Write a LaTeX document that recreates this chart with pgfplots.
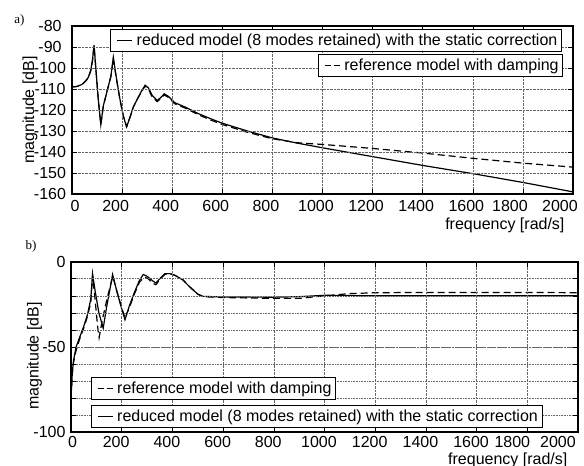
\documentclass[border=0pt]{standalone}
\usepackage{pgfplots}
\pgfplotsset{compat=1.18}
\usepackage{fontspec}
\setmainfont{Liberation Sans}
\newfontfamily\seriffont{Liberation Serif}

\pgfplotsset{
  magplot/.style={
    scale only axis,
    anchor=south west,
    xmin=0, xmax=2000,
    xtick={0,200,...,2000},
    axis on top,
    axis line style={line width=2.2pt},
    tick style={black, line width=0.6pt},
    major tick length=5pt, minor tick length=5pt,
    tick align=inside,
    grid style={densely dotted, black!60, line width=0.6pt},
    minor grid style={densely dotted, black!60, line width=0.6pt},
    /pgf/number format/1000 sep={},
    /pgf/number format/assume math mode=true,
    scaled ticks=false,
    ticklabel style={font=\fontsize{16}{18}\selectfont},
    label style={font=\fontsize{16}{18}\selectfont},
    legend style={draw=black, line width=0.6pt, fill=white,
      font=\fontsize{16}{18}\selectfont, inner xsep=2pt, inner ysep=2.5pt},
    legend cell align=left,
    legend image code/.code={\draw[##1] (4pt,0pt) -- (19pt,0pt); \path (0pt,0pt) (21pt,0pt);},
  },
  solidc/.style={black, line width=1.2pt},
  dashc/.style={black, line width=1.2pt, dash pattern=on 7pt off 4pt},
  dashleg/.style={black, line width=1.2pt, dash pattern=on 6pt off 3pt},
}

\begin{document}
\begin{tikzpicture}
\path[use as bounding box] (0pt,0pt) rectangle (584pt,466pt);

\node[font=\seriffont\fontsize{13}{13}\selectfont] at (19.5pt,446pt) {a)};
\node[font=\seriffont\fontsize{13}{13}\selectfont] at (31pt,220pt) {b)};

% ---------- a) ----------
\begin{axis}[magplot,
  at={(72pt,272pt)}, width=501pt, height=168pt,
  ymin=-160, ymax=-80, ytick={-160,-150,...,-80},
  grid=major,
  xticklabel style={yshift=-3pt, xshift={(\ticknum==0 ? 3 : (\ticknum>8 ? -13 : -6.5))*1pt}},
  yticklabel style={anchor=center, xshift=-22pt},
  ylabel={magnitude [dB]},
  ylabel style={at={(axis description cs:-0.084,0.5)}, anchor=center},
  xlabel={frequency [rad/s]},
  xlabel style={at={(axis description cs:0.99,-0.185)}, anchor=east},
  legend style={at={(0.9774,0.982)}, anchor=north east},
]
\addplot[dashc, forget plot] coordinates {
(0,-109) (20,-108.8) (40,-107.9) (55,-106.2) (65,-104.7) (75,-101.3) (82,-96.5) (88,-89.5)
(95,-100) (105,-115) (115,-127) (125,-118.3) (140,-111) (155,-104.3) (165,-95.5)
(175,-103.5) (190,-114) (205,-123) (218,-128) (230,-124) (245,-118.5) (260,-115)
(275,-111.8) (292,-108.6) (305,-110) (320,-113.8) (340,-116) (355,-114.5) (368,-112.8)
(385,-114) (410,-117) (450,-119) (500,-122) (550,-124.6) (600,-126.9) (700,-130.6)
(800,-133.7) (900,-135.6) (1000,-136.4) (1200,-138.3) (1400,-140.5) (1600,-143)
(1800,-145.3) (2000,-147.2)
};
\addplot[solidc] coordinates {
(0,-109) (20,-108.8) (40,-107.8) (55,-106) (65,-104.5) (75,-101) (82,-96) (88,-89)
(95,-100) (105,-115) (115,-127) (125,-118) (140,-111) (155,-104) (165,-95)
(175,-103) (190,-114) (205,-123) (218,-128) (230,-124) (245,-118.5) (260,-115)
(275,-111.5) (292,-108.2) (305,-109.5) (320,-113) (340,-115.5) (355,-114) (368,-112.3)
(385,-113.5) (410,-116.5) (450,-118.5) (500,-121.5) (550,-124) (600,-126.3) (700,-130)
(800,-133.3) (900,-135.8) (1000,-138) (1200,-142.2) (1400,-146.4) (1600,-150.3)
(1800,-154.5) (2000,-159)
};
\addlegendentry{reduced model (8 modes retained) with the static correction}
\end{axis}
\begin{axis}[magplot, hide axis,
  at={(72pt,272pt)}, width=501pt, height=168pt,
  ymin=-160, ymax=-80,
  legend style={at={(0.98,0.833)}, anchor=north east},
]
\addlegendimage{dashleg}
\addlegendentry{reference model with damping}
\end{axis}

% ---------- b) ----------
\begin{axis}[magplot,
  at={(71pt,33.7pt)}, width=507pt, height=170.6pt,
  ymin=-100, ymax=0, ytick={-100,-50,0},
  minor ytick={-90,-80,...,-10},
  grid=both,
  xticklabel style={xshift={(\ticknum==0 ? 1.5 : (\ticknum==9 ? -15 : (\ticknum==10 ? -20 : -5.5)))*1pt}},
  yticklabel style={xshift=-2pt},
  ylabel={magnitude [dB]},
  ylabel style={at={(axis description cs:-0.072,0.447)}, anchor=center},
  xlabel={frequency [rad/s]},
  xlabel style={at={(axis description cs:0.986,-0.162)}, anchor=east},
  legend style={at={(0.0389,0.189)}, anchor=south west},
]
\addplot[dashc, forget plot] coordinates {
(0,-80) (5,-66) (10,-59) (20,-52) (35,-45) (50,-39) (65,-32) (78,-24) (85,-8)
(95,-22) (105,-38) (111,-44.5) (125,-33) (145,-20) (165,-8.5) (180,-17) (200,-27)
(213,-33) (230,-27) (250,-19) (270,-12) (290,-9) (305,-10) (320,-12.5) (335,-13.5)
(350,-10.5) (370,-7.5) (390,-7) (410,-8) (440,-10.5) (470,-15) (500,-19) (520,-20.5)
(600,-21) (800,-21.5) (900,-21.5) (1000,-20) (1100,-18.7) (1200,-18.2) (1400,-18)
(1600,-18) (1800,-18) (2000,-18.2)
};
\addlegendimage{dashleg}
\addlegendentry{reference model with damping}
\addplot[solidc, forget plot] coordinates {
(0,-80) (5,-65) (10,-58) (20,-50) (35,-44) (50,-38) (65,-31) (78,-22) (85,-7)
(95,-17) (110,-30) (127,-39) (140,-27) (155,-15) (164,-7.5) (175,-14) (195,-25)
(213,-34) (230,-26) (250,-18) (270,-11) (285,-7.5) (300,-8.5) (320,-11) (335,-12.5)
(350,-10) (370,-7) (390,-7) (410,-8) (440,-10.5) (470,-15) (500,-19) (520,-20.3)
(600,-20.7) (800,-20.8) (900,-20.5) (1000,-19.7) (1200,-20) (1400,-20) (1600,-20)
(1800,-20) (2000,-20)
};
\end{axis}
\begin{axis}[magplot, hide axis,
  at={(71pt,33.7pt)}, width=507pt, height=170.6pt,
  ymin=-100, ymax=0,
  legend style={at={(0.0389,0.027)}, anchor=south west},
]
\addlegendimage{solidc}
\addlegendentry{reduced model (8 modes retained) with the static correction}
\end{axis}
\end{tikzpicture}
\end{document}
